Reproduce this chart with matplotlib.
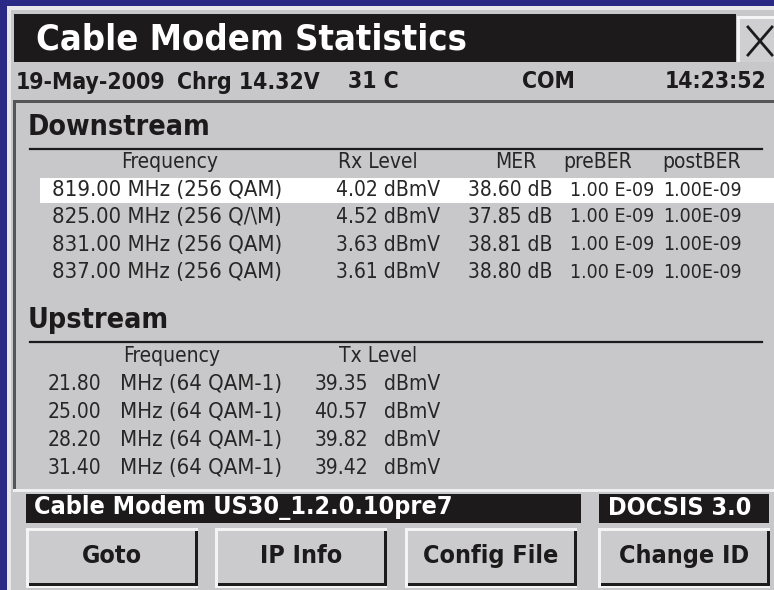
import matplotlib
matplotlib.use('Agg')
import matplotlib.pyplot as plt
from matplotlib.patches import Rectangle

# Font: narrow sans, like the device screen
plt.rcParams['font.family'] = ['DejaVu Sans']
plt.rcParams['font.stretch'] = 'condensed'

# Header / status line
title = 'Cable Modem Statistics'
status_date = '19-May-2009'
status_chrg = 'Chrg 14.32V'
status_temp = '31 C'
status_port = 'COM'
status_time = '14:23:52'

# Downstream table
ds_headers = ['Frequency', 'Rx Level', 'MER', 'preBER', 'postBER']
ds_freq = ['819.00 MHz (256 QAM)', '825.00 MHz (256 Q/\\M)', '831.00 MHz (256 QAM)', '837.00 MHz (256 QAM)']
ds_rx = [4.02, 4.52, 3.63, 3.61]
ds_mer = [38.60, 37.85, 38.81, 38.80]
ds_preber = ['1.00 E-09', '1.00 E-09', '1.00 E-09', '1.00 E-09']
ds_postber = ['1.00E-09', '1.00E-09', '1.00E-09', '1.00E-09']
ds_selected = 0

# Upstream table
us_headers = ['Frequency', 'Tx Level']
us_freq = [21.80, 25.00, 28.20, 31.40]
us_mod = ['MHz (64 QAM-1)'] * 4
us_tx = [39.35, 40.57, 39.82, 39.42]

# Footer
modem_name = 'Cable Modem US30_1.2.0.10pre7'
docsis = 'DOCSIS 3.0'
buttons = ['Goto', 'IP Info', 'Config File', 'Change ID']

W, H = 774, 590
fig = plt.figure(figsize=(W / 100, H / 100), dpi=100)
ax = fig.add_axes([0, 0, 1, 1])
ax.set_xlim(0, W)
ax.set_ylim(H, 0)
ax.axis('off')

blue = '#2a2a86'
gray = '#c8c8ca'
black = '#1c1a1a'
ink = '#262626'
fs = 15

def box(x, y, w, h, color, z=1, **kw):
    ax.add_patch(Rectangle((x, y), w, h, facecolor=color, edgecolor='none', zorder=z, **kw))

# background and window frame
box(0, 0, W, H, blue, 0)
box(7, 6, W - 7, H - 6, '#e8e8ea', 1)
box(11, 10, W - 11, H - 10, gray, 1)

# title bar
box(14, 14, 722, 48, black, 2)
ax.text(36, 39, title, color='white', fontsize=26, fontweight='bold', va='center', ha='left', zorder=3)
# close button
box(737, 16, W - 737, 46, '#f4f4f4', 2)
box(740, 19, W - 740, 43, '#cfcfd1', 2)
ax.plot([748, 772], [27, 55], color=black, lw=2, zorder=3)
ax.plot([748, 772], [55, 27], color=black, lw=2, zorder=3)

# status line
sy = 82
st = dict(fontsize=16.5, fontweight='bold', va='center', color=black)
ax.text(16, sy, status_date, **st)
ax.text(177, sy, status_chrg, **st)
ax.text(348, sy, status_temp, **st)
ax.text(522, sy, status_port, **st)
ax.text(766, sy, status_time, ha='right', **st)

# main panel border
box(13, 100, W - 13, 390, '#555555', 1)
box(16, 103, W - 16, 387, gray, 1)

# Downstream section
ax.text(28, 127, 'Downstream', fontsize=20.5, fontweight='bold', va='center', color=black)
ax.plot([30, 762], [149, 149], color=black, lw=1.6)
hx = [170, 378, 516, 598, 702]
for x, h in zip(hx, ds_headers):
    ax.text(x, 162, h, fontsize=fs, ha='center', va='center', color=ink)
row_y = [190, 217, 245, 272]
box(40, 178, W - 40, 25, 'white', 1.5)
for i, y in enumerate(row_y):
    ax.text(52, y, ds_freq[i], fontsize=fs + 0.8, va='center', color=ink)
    ax.text(440, y, f'{ds_rx[i]:.2f} dBmV', fontsize=fs, ha='right', va='center', color=ink)
    ax.text(553, y, f'{ds_mer[i]:.2f} dB', fontsize=fs, ha='right', va='center', color=ink)
    ax.text(570, y, ds_preber[i], fontsize=fs - 1, va='center', color=ink)
    ax.text(663, y, ds_postber[i], fontsize=fs - 1, va='center', color=ink)

# Upstream section
ax.text(28, 320, 'Upstream', fontsize=20.5, fontweight='bold', va='center', color=black)
ax.plot([30, 762], [342, 342], color=black, lw=1.6)
for x, h in zip([172, 378], us_headers):
    ax.text(x, 356, h, fontsize=fs, ha='center', va='center', color=ink)
up_y = [384, 412, 440, 468]
for i, y in enumerate(up_y):
    ax.text(101, y, f'{us_freq[i]:.2f}', fontsize=fs, ha='right', va='center', color=ink)
    ax.text(120, y, us_mod[i], fontsize=fs + 0.8, va='center', color=ink)
    ax.text(368, y, f'{us_tx[i]:.2f}', fontsize=fs, ha='right', va='center', color=ink)
    ax.text(384, y, 'dBmV', fontsize=fs, va='center', color=ink)

# footer bars
box(13, 489, W - 13, 3, '#f0f0f0', 1)
box(26, 494, 555, 29, black, 2)
ax.text(34, 508, modem_name, color='white', fontsize=18, fontweight='bold', va='center', zorder=3)
box(599, 494, 170, 29, black, 2)
ax.text(680, 508, docsis, color='white', fontsize=18, fontweight='bold', va='center', ha='center', zorder=3)

# buttons
bx = [26, 215, 405, 598]
bw = 172
for x, label in zip(bx, buttons):
    box(x, 528, bw, 60, '#f4f4f4', 2)
    box(x + 3, 531, bw - 3, 55, black, 2)
    box(x + 3, 531, bw - 6, 52, '#cbcbcd', 2)
    ax.text(x + bw / 2, 556, label, fontsize=18, fontweight='bold', ha='center', va='center', color=black, zorder=3)

fig.savefig('out.png', dpi=100)
